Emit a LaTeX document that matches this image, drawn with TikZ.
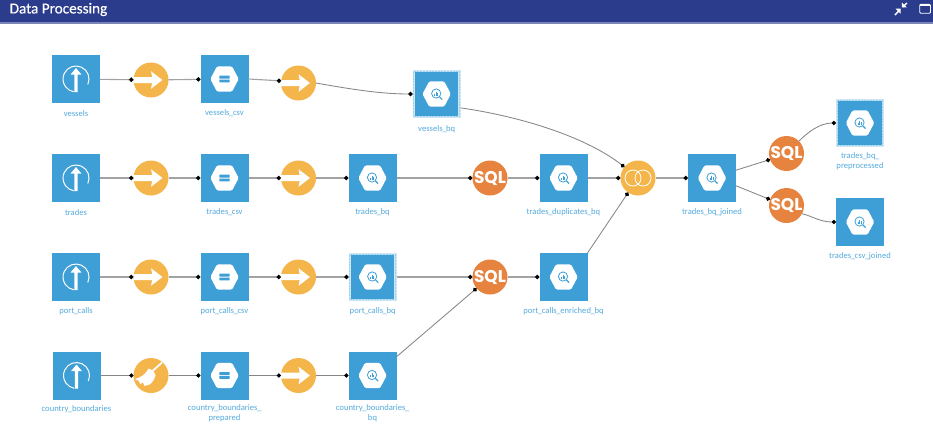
\documentclass[tikz,border=0pt]{standalone}
\usepackage{fontspec}
\setmainfont{Carlito}
\newfontfamily\sqlfont{Poppins}
\newcommand\us{\kern-.4pt\_\kern-.4pt}
\usetikzlibrary{arrows.meta}
\definecolor{boxblue}{HTML}{3E9FD7}
\definecolor{lblblue}{HTML}{55ABDD}
\definecolor{recipeyel}{HTML}{F4B54A}
\definecolor{sqlor}{HTML}{E6843F}
\definecolor{hdr}{HTML}{2B3C8C}
\definecolor{hdrline}{HTML}{7884B8}
\definecolor{linkgray}{HTML}{A2A2A2}
\definecolor{curvegray}{HTML}{868686}
\tikzset{
  dsbox/.style={rectangle,fill=boxblue,draw=none,inner sep=0,outer sep=0,minimum size=48pt},
  selbox/.style={rectangle,fill=boxblue,draw=boxblue!25,line width=2.3pt,inner sep=0,outer sep=1.15pt,minimum size=45.7pt,
    postaction={draw=boxblue!50,line width=.8pt,dash pattern=on 2pt off 1pt}},
  yelcirc/.style={circle,fill=recipeyel,draw=none,inner sep=0,outer sep=0,minimum size=35pt},
  sqlcirc/.style={circle,fill=sqlor,draw=none,inner sep=0,outer sep=0,minimum size=35pt,text=white,
    font=\sqlfont\bfseries\fontsize{17}{17}\selectfont},
  lbl/.style={text=lblblue,font=\fontsize{8.6}{10}\selectfont,align=center,inner sep=0},
  link/.style={draw=linkgray,line width=1.1pt,-{Circle[black,length=4.3pt]}},
  clink/.style={draw=curvegray,line width=.85pt,-{Circle[black,length=4.3pt]}},
  hexicon/.pic={\fill[white,rounded corners=1.5pt] (-14.2,0)--(-7.5,-12.7)--(7.5,-12.7)--(14.2,0)--(7.5,12.7)--(-7.5,12.7)--cycle;},
  uploadicon/.pic={
    \draw[white,line width=1pt] (11.8,5.5) arc[start angle=25,end angle=-260,radius=13];
    \fill[white] (-1.6,13) -- (-1.6,-4.5) -- (-5.4,-4.5) -- (0,-11) -- (5.4,-4.5) -- (1.6,-4.5) -- (1.6,13) -- cycle;},
  csvicon/.pic={\pic{hexicon};
    \fill[boxblue,rounded corners=.4pt] (-5.2,-3.3) rectangle (5.2,-.5);
    \fill[boxblue,rounded corners=.4pt] (-5.2,.5) rectangle (5.2,3.3);},
  bqicon/.pic={\pic{hexicon};
    \draw[boxblue,line width=.8pt] (-.5,-.5) circle[radius=4.6];
    \draw[boxblue,line width=1.1pt] (2.9,2.9) -- (5.6,5.6);
    \draw[boxblue,line width=.7pt] (-2,-.4)--(-2,1.5) (-.5,-2.4)--(-.5,1.5) (1,-1)--(1,1.5);},
  arrowicon/.pic={\fill[white] (-17.3,-3) -- (1.2,-3) -- (0,-8.8) -- (11.5,0) -- (0,8.8) -- (1.2,3) -- (-17.3,3) -- cycle;},
  broomicon/.pic={
    \draw[white,line width=1.8pt] (1.5,-4.5) -- (11,-13);
    \fill[white] (-2.5,-7) .. controls (-5,-1.5) and (-10,2) .. (-16,3.5) -- (-12,5.5) -- (-11,8.5) -- (-8,7) -- (-6.5,10.5)
      -- (-1.5,9) .. controls (1.5,7) and (4,3) .. (4.5,-.5) .. controls (3,-4) and (1,-6) .. (-2.5,-7) -- cycle;},
  joinicon/.pic={\draw[white,line width=.8pt] (-5,0) circle[radius=8] (5,0) circle[radius=8];},
}
\begin{document}
\begin{tikzpicture}[x=1pt,y=-1pt]
\useasboundingbox (0,0) rectangle (933,432);
\fill[white] (0,0) rectangle (933,432);
\fill[hdr] (0,0) rectangle (933,22.3);
\fill[hdrline] (0,22.3) rectangle (933,23.6);
\node[anchor=west,text=white,inner sep=0,font=\fontsize{15.2}{16}\selectfont\addfontfeature{FakeBold=0.4}] (title) at (9.5,9.5) {Data Processing};
% header icons
\draw[white,line width=1.5pt] (895,15)--(898.5,11.2) (906.8,3)--(903,6.8);
\fill[white] (900.5,8.6)--(900.5,13.6)--(895.5,8.6)--cycle;
\fill[white] (901.8,7.4)--(901.8,2.4)--(906.8,7.4)--cycle;
\draw[white,line width=.9pt,rounded corners=1pt] (919.7,4.4) rectangle (930.5,13.2);
\draw[white,line width=1.4pt] (920,5.2)--(930.2,5.2);
% row 1
\node[dsbox] (vessels) at (76,79) {}; \pic at (76,79) {uploadicon};
\node[yelcirc] (r1a) at (151,80) {}; \pic at (151,80) {arrowicon};
\node[dsbox] (vesselscsv) at (224.5,79) {}; \pic at (224.5,79) {csvicon};
\node[yelcirc] (r1b) at (298.5,83) {}; \pic at (298.5,83) {arrowicon};
\node[selbox] (vesselsbq) at (436.7,94) {}; \pic at (436.7,94) {bqicon};
% row 2
\node[dsbox] (trades) at (76,178) {}; \pic at (76,178) {uploadicon};
\node[yelcirc] (r2a) at (151,178) {}; \pic at (151,178) {arrowicon};
\node[dsbox] (tradescsv) at (224.5,178) {}; \pic at (224.5,178) {csvicon};
\node[yelcirc] (r2b) at (298.5,178) {}; \pic at (298.5,178) {arrowicon};
\node[dsbox] (tradesbq) at (372.5,178) {}; \pic at (372.5,178) {bqicon};
\node[sqlcirc] (sqla) at (490,178) {SQL};
\node[dsbox] (dup) at (563.5,178) {}; \pic at (563.5,178) {bqicon};
\node[yelcirc] (join) at (638,178) {}; \pic at (638,178) {joinicon};
\node[dsbox] (joined) at (712,178) {}; \pic at (712,178) {bqicon};
\node[sqlcirc] (sqlb) at (786.5,153.5) {SQL};
\node[sqlcirc] (sqlc) at (786.5,205.5) {SQL};
\node[selbox] (prep) at (860,123) {}; \pic at (860,123) {bqicon};
\node[dsbox] (csvjoined) at (860,222) {}; \pic at (860,222) {bqicon};
% row 3
\node[dsbox] (port) at (76,277) {}; \pic at (76,277) {uploadicon};
\node[yelcirc] (r3a) at (151,277) {}; \pic at (151,277) {arrowicon};
\node[dsbox] (portcsv) at (224.5,277) {}; \pic at (224.5,277) {csvicon};
\node[yelcirc] (r3b) at (298.5,277) {}; \pic at (298.5,277) {arrowicon};
\node[selbox] (portbq) at (372.7,277) {}; \pic at (372.7,277) {bqicon};
\node[sqlcirc] (sqld) at (490,277) {SQL};
\node[dsbox] (enriched) at (563.5,277) {}; \pic at (563.5,277) {bqicon};
% row 4
\node[dsbox] (country) at (76.5,375.5) {}; \pic at (76.5,375.5) {uploadicon};
\node[yelcirc] (broom) at (151,375.5) {}; \pic at (151,375.5) {broomicon};
\node[dsbox] (prepared) at (224.5,375.5) {}; \pic at (224.5,375.5) {csvicon};
\node[yelcirc] (r4b) at (298.5,375.5) {}; \pic at (298.5,375.5) {arrowicon};
\node[dsbox] (countrybq) at (372.5,375.5) {}; \pic at (372.5,375.5) {bqicon};
% connectors
\draw[link] (vessels) -- (r1a);
\draw[link] (r1a) -- (vesselscsv);
\draw[link] (vesselscsv.east) -- (r1b.173);
\draw[clink] (r1b.east) .. controls (350,89) and (380,94) .. (vesselsbq.west);
\draw[clink] (vesselsbq.-30) .. controls (530,118) and (590,140) .. (join.141);
\draw[link] (trades) -- (r2a);
\draw[link] (r2a) -- (tradescsv);
\draw[link] (tradescsv) -- (r2b);
\draw[link] (r2b) -- (tradesbq);
\draw[link] (tradesbq) -- (sqla);
\draw[link] (sqla) -- (dup);
\draw[link] (dup) -- (join);
\draw[link] (join) -- (joined);
\draw[clink] (joined.18) -- (sqlb.200);
\draw[clink] (joined.-18) -- (sqlc.160);
\draw[clink] (sqlb.45) .. controls (808,132) and (820,123) .. (prep.west);
\draw[clink] (sqlc.-28) .. controls (812,216) and (820,222) .. (csvjoined.west);
\draw[link] (port) -- (r3a);
\draw[link] (r3a) -- (portcsv);
\draw[link] (portcsv) -- (r3b);
\draw[link] (r3b) -- (portbq);
\draw[link] (portbq) -- (sqld);
\draw[link] (sqld) -- (enriched);
\draw[clink] (enriched.north east) -- (join.236);
\draw[clink] (country) -- (broom);
\draw[clink] (broom) -- (prepared);
\draw[clink] (prepared) -- (r4b);
\draw[clink] (r4b) -- (countrybq);
\draw[clink] (countrybq.38) -- (sqld.220);
% labels
\node[lbl] (l1) at (76,113.5) {vessels};
\node[lbl] (l2) at (224.5,113.5) {vessels\us csv};
\node[lbl] (l3) at (436.7,129.5) {vessels\us bq};
\node[lbl] (l4) at (76,212.5) {trades};
\node[lbl] (l5) at (224.5,212.5) {trades\us csv};
\node[lbl] (l6) at (372.5,212.5) {trades\us bq};
\node[lbl] (l7) at (563.5,212.5) {trades\us duplicates\us bq};
\node[lbl] (l8) at (712,212.5) {trades\us bq\us joined};
\node[lbl] (l9) at (860,161) {trades\us bq\us\\preprocessed};
\node[lbl] (l10) at (860,256.5) {trades\us csv\us joined};
\node[lbl] (l11) at (76,311.5) {port\us calls};
\node[lbl] (l12) at (224.5,311.5) {port\us calls\us csv};
\node[lbl] (l13) at (372.7,311.5) {port\us calls\us bq};
\node[lbl] (l14) at (563.5,311.5) {port\us calls\us enriched\us bq};
\node[lbl] (l15) at (76.5,409.5) {country\us boundaries};
\node[lbl] (l16) at (224.5,413) {country\us boundaries\us\\prepared};
\node[lbl] (l17) at (372.5,413) {country\us boundaries\us\\bq};
\end{tikzpicture}
\end{document}
